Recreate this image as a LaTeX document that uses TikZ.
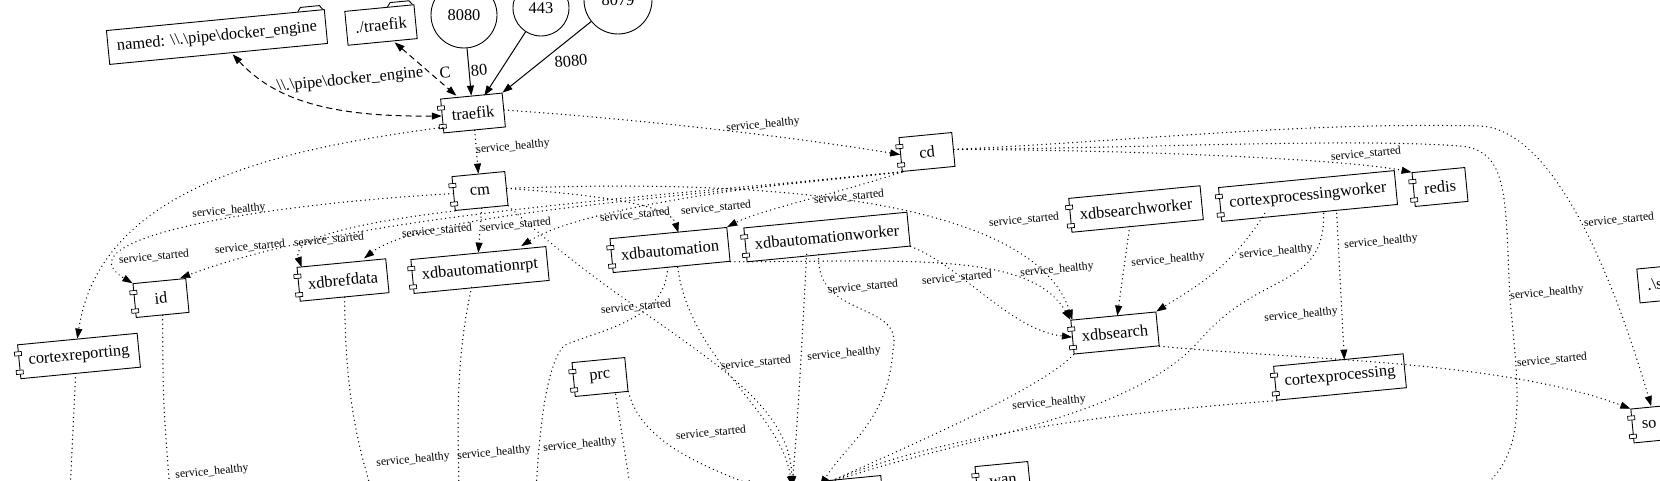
\documentclass[tikz,border=0pt]{standalone}
\usepackage{fontspec}
\setmainfont{Liberation Serif}
\usetikzlibrary{arrows.meta}
\usetikzlibrary{calc}
\newcommand{\nodefont}{\fontsize{16.4}{19}\selectfont}
\newcommand{\lblfont}{\fontsize{11.7}{13}\selectfont}
\newcommand{\foldertab}[1]{\draw [line width=0.9pt, shift={(#1.north east)}, rotate=5.5] (-2,0) -- (-5,-4) -- (-24,-4) -- (-27,0);}
\tikzset{
  comp/.style = {draw, line width=0.9pt, rotate=5.5, font=\nodefont, minimum width=53, minimum height=34, inner xsep=9.5, inner ysep=2,
    append after command={\pgfextra{\xdef\compname{\tikzlastnode}}
      node [portbox] at ($(\compname.north west)!0.27!(\compname.south west)$) {}
      node [portbox] at ($(\compname.north west)!0.8!(\compname.south west)$) {}}},
  portbox/.style = {draw, fill=white, line width=0.7pt, rotate=5.5, minimum width=7, minimum height=4, inner sep=0},
  fold/.style = {draw, line width=0.9pt, rotate=5.5, font=\nodefont, minimum height=34, inner xsep=9},
  pubport/.style = {draw, circle, line width=0.9pt, font=\nodefont, inner sep=0},
  lbl/.style = {font=\lblfont, rotate=5.5, inner sep=1},
  biglbl/.style = {font=\nodefont, rotate=5.5, inner sep=1},
  dep/.style = {line width=1.45pt, line cap=round, dash pattern=on 0.01pt off 4.4pt, -{Triangle[length=10pt,width=7pt,line width=0.6pt]}},
  vol/.style = {line width=1pt, dash pattern=on 6pt off 4pt, {Triangle[length=10pt,width=7pt]}-{Triangle[length=10pt,width=7pt]}},
  pub/.style = {line width=1pt, -{Triangle[length=10pt,width=7pt]}}
}
\begin{document}
\begin{tikzpicture}[x=1pt,y=-1pt]
  \useasboundingbox (0,0) rectangle (1660,481);
  \clip (0,0) rectangle (1660,481);
  % volumes and published ports
  \node [fold] (named) at (217,37) {named: \textbackslash\textbackslash.\textbackslash pipe\textbackslash docker\_engine};
  \node [fold] (trfvol) at (381,25) {./traefik};
  \node [fold, anchor=west] (svol) at (1638,286) {.\textbackslash s};
  \foldertab{named}
  \foldertab{trfvol}
  \node [pubport, minimum size=66] (p8080) at (464,15) {8080};
  \node [pubport, minimum size=56] (p443) at (541,8) {443};
  \node [pubport, minimum size=68] (p8079) at (618,0) {8079};
  % services
  \node [comp] (traefik) at (473,113) {traefik};
  \node [comp] (cd) at (927,152) {cd};
  \node [comp] (cm) at (480,191) {cm};
  \node [comp] (id) at (161,298) {id};
  \node [comp] (cortexreporting) at (79,356) {cortexreporting};
  \node [comp] (xdbrefdata) at (343,280) {xdbrefdata};
  \node [comp] (xdbautomationrpt) at (480,270) {xdbautomationrpt};
  \node [comp] (xdbautomation) at (670,250) {xdbautomation};
  \node [comp] (xdbautomationworker) at (827,237) {xdbautomationworker};
  \node [comp] (xdbsearchworker) at (1136,209) {xdbsearchworker};
  \node [comp] (cortexprocessingworker) at (1308,196) {cortexprocessingworker};
  \node [comp] (redis) at (1440,187) {redis};
  \node [comp] (xdbsearch) at (1115,333) {xdbsearch};
  \node [comp] (cortexprocessing) at (1340,377) {cortexprocessing};
  \node [comp] (prc) at (600,377) {prc};
  \node [comp, anchor=west, text width=34, align=left] (so) at (1632,426) {so};
  \node [comp] (hubbox) at (856,495) {};
  \node [comp] (wan) at (1003,481) {wan};
  % free ends below the crop
  \coordinate (hubL) at (757,487);
  \coordinate (hubA) at (792,486);
  \coordinate (hubB) at (820,486);
  \coordinate (crdown) at (70,492);
  \coordinate (iddown) at (170,492);
  \coordinate (refdown) at (372,492);
  \coordinate (rptdown) at (459,492);
  \coordinate (autodown) at (536,492);
  \coordinate (prcdown) at (631,492);
  \coordinate (cddown) at (1478,492);
  % traefik
  \draw [vol] ([xshift=14]named.south) .. controls (275,100) and (330,117) .. (traefik.west) node [biglbl] (l1) at (350,80) {\textbackslash\textbackslash.\textbackslash pipe\textbackslash docker\_engine};
  \draw [vol] ([xshift=12]trfvol.south) -- ([xshift=-15]traefik.north) node [biglbl] (l2) at (445,73) {C};
  \draw [pub] (p8080) -- (traefik.north) node [biglbl] (l3) at (479,70) {80};
  \draw [pub] (p443) -- ([xshift=13]traefik.north);
  \draw [pub] (p8079) -- (traefik.north east) node [biglbl] (l4) at (571,61) {8080};
  \draw [dep] (traefik.south) -- (cm.north) node [lbl] (l6) at (513,147) {service\_healthy};
  \draw [dep] (traefik.east) .. controls (650,120) and (800,138) .. (cd.west) node [lbl] (l5) at (763,125) {service\_healthy};
  \draw [dep] (traefik.200) .. controls (270,150) and (100,190) .. (cortexreporting.north) node [lbl] (l7) at (229,211) {service\_healthy};
  % cm and cd fan out
  \draw [dep] (cm.west) .. controls (250,205) and (60,240) .. (id.north west) node [lbl] (l8) at (154,257) {service\_started};
  \draw [dep] (cd.south west) .. controls (620,200) and (350,215) .. ([xshift=-6]id.north east) node [lbl] (l9) at (250,247) {service\_started};
  \draw [dep] (cm.south west) .. controls (380,220) and (290,235) .. ([xshift=5]xdbrefdata.north west) node [lbl] (l10) at (329,240) {service\_started};
  \draw [dep] (cd.south west) .. controls (650,200) and (420,215) .. ([xshift=-22]xdbrefdata.north east) node [lbl] (l11) at (437,231) {service\_started};
  \draw [dep] (cm.south) -- (xdbautomationrpt.north) node [lbl] (l12) at (516,225) {service\_started};
  \draw [dep] (cd.south west) .. controls (700,190) and (570,215) .. ([xshift=-25]xdbautomationrpt.north east) node [lbl] (l13) at (635,215) {service\_started};
  \draw [dep] (cm.east) .. controls (600,195) and (670,205) .. ([xshift=10]xdbautomation.north) node [lbl] (l14) at (716,208) {service\_started};
  \draw [dep] (cd.south west) .. controls (850,190) and (760,210) .. (xdbautomation.north east) node [lbl] (l15) at (849,197) {service\_started};
  \draw [dep] (cm.east) .. controls (850,175) and (1040,220) .. ([xshift=2]xdbsearch.north west) node [lbl] (l17) at (1024,220) {service\_started};
  \draw [dep] (cm.south east) .. controls (640,330) and (790,380) .. (hubA);
  % xdbautomation and its worker
  \draw [dep] (xdbautomation.south east) .. controls (900,262) and (1030,250) .. (xdbsearch.north west) node [lbl] (l20) at (1057,270) {service\_healthy};
  \draw [dep] ([xshift=6]xdbautomation.south) .. controls (690,360) and (780,410) .. (hubA) node [lbl] (l29) at (756,363) {service\_started};
  \draw [dep] ([xshift=-4]xdbautomation.south) .. controls (666,320) and (600,330) .. (565,345) .. controls (548,360) and (540,420) .. (autodown) node [lbl] (l25) at (636,307) {service\_started};
  \draw [dep] (xdbautomationworker.south east) .. controls (960,265) and (1010,330) .. (xdbsearch.west) node [lbl] (l23) at (957,278) {service\_started};
  \draw [dep] ([xshift=-22]xdbautomationworker.south) .. controls (802,340) and (798,420) .. (hubA) node [lbl] (l30) at (844,354) {service\_healthy};
  \draw [dep] ([xshift=-10]xdbautomationworker.south) .. controls (815,320) and (905,300) .. (893,350) .. controls (888,420) and (850,440) .. (hubB) node [lbl] (l24) at (863,287) {service\_started};
  % prc
  \draw [dep] (prc.south east) .. controls (640,440) and (700,465) .. (hubL) node [lbl] (l32) at (711,433) {service\_started};
  \draw [dep] ([xshift=14]prc.south) -- (prcdown) node [lbl] (l33) at (580,445) {service\_healthy};
  % xdbsearch and cortexprocessing
  \draw [dep] (xdbsearch.south west) .. controls (1040,390) and (900,450) .. (hubB) node [lbl] (l31) at (1049,403) {service\_healthy};
  \draw [dep] (xdbsearch.south east) .. controls (1300,360) and (1500,360) .. (so.north west) node [lbl] (l28) at (1552,360) {service\_started};
  \draw [dep] (cortexprocessing.south west) .. controls (1150,410) and (950,430) .. (hubB);
  \draw [dep] ([xshift=27]cortexprocessingworker.south) -- ([xshift=6]cortexprocessing.north) node [lbl] (l26) at (1301,315) {service\_healthy};
  \draw [dep] ([xshift=-45]cortexprocessingworker.south) .. controls (1230,270) and (1190,290) .. (xdbsearch.north east) node [lbl] (l21) at (1276,252) {service\_healthy};
  \draw [dep] ([xshift=14]cortexprocessingworker.south) .. controls (1325,290) and (1260,270) .. (1200,340) .. controls (1130,420) and (950,440) .. (hubB) node [lbl] (l22) at (1381,242) {service\_healthy};
  \draw [dep] ([xshift=-8]xdbsearchworker.south) -- ([xshift=4]xdbsearch.north) node [lbl] (l19) at (1168,260) {service\_healthy};
  % cd to the right
  \draw [dep] (cd.east) .. controls (1150,150) and (1350,160) .. (redis.north west) node [lbl] (l16) at (1366,154) {service\_started};
  \draw [dep] (cd.east) .. controls (1150,140) and (1300,122) .. (1480,126) .. controls (1560,130) and (1620,300) .. ([xshift=-6]so.north) node [lbl] (l18) at (1619,220) {service\_started};
  \draw [dep] (cd.east) .. controls (1150,148) and (1350,138) .. (1460,146) .. controls (1510,150) and (1505,200) .. (1510,300) .. controls (1520,400) and (1525,450) .. (cddown) node [lbl] (l27) at (1547,293) {service\_healthy};
  % down the left
  \draw [dep] ([xshift=-5]cortexreporting.south) -- (crdown);
  \draw [dep] (id.south) .. controls (163,400) .. (iddown) node [lbl] (l36) at (212,472) {service\_healthy};
  \draw [dep] (xdbrefdata.south) .. controls (345,400) and (360,450) .. (refdown) node [lbl] (l35) at (413,460) {service\_healthy};
  \draw [dep] ([xshift=-10]xdbautomationrpt.south) .. controls (455,360) and (458,430) .. (rptdown) node [lbl] (l34) at (494,453) {service\_healthy};
\end{tikzpicture}
\end{document}
